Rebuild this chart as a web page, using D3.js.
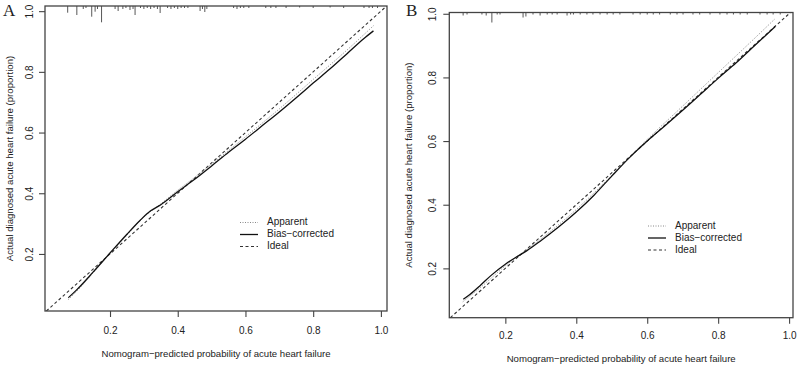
<!DOCTYPE html>
<html>
<head>
<meta charset="utf-8">
<script src="https://cdn.jsdelivr.net/npm/d3@7"></script>
<style>
  body { margin: 0; background: #fff; }
  svg { display: block; }
  text { font-family: "Liberation Sans", Arial, sans-serif; fill: #222; }
  .letter { font-family: "Liberation Serif", "DejaVu Serif", serif; font-size: 17px; }
</style>
</head>
<body>
<div id="chart"></div>
<script>
const xTicks = [0.2, 0.4, 0.6, 0.8, 1.0];
const yTicks = [0.2, 0.4, 0.6, 0.8, 1.0];
const xLabel = 'Nomogram\u2212predicted probability of acute heart failure';
const yLabel = 'Actual diagnosed acute heart failure (proportion)';
const legendLabels = ['Apparent', 'Bias\u2212corrected', 'Ideal'];

// Panel A
const biasA = [[0.077,0.056],[0.10,0.080],[0.15,0.140],[0.20,0.203],[0.25,0.265],[0.29,0.312],
  [0.32,0.342],[0.35,0.362],[0.40,0.405],[0.45,0.446],[0.50,0.490],[0.55,0.535],[0.60,0.578],
  [0.65,0.623],[0.70,0.668],[0.75,0.715],[0.80,0.763],[0.85,0.810],[0.90,0.860],[0.95,0.910],[0.978,0.935]];
const apparentA = [[0.077,0.050],[0.10,0.075],[0.15,0.138],[0.20,0.202],[0.25,0.262],[0.30,0.322],
  [0.35,0.365],[0.40,0.410],[0.45,0.452],[0.50,0.496],[0.60,0.586],[0.70,0.678],[0.80,0.775],
  [0.90,0.872],[0.978,0.952]];
const rugAx = [0.075,0.102,0.121,0.129,0.146,0.156,0.163,0.175,0.215,0.224,0.238,0.247,0.259,0.268,
  0.274,0.29,0.30,0.31,0.32,0.33,0.34,0.348,0.37,0.38,0.39,0.40,0.41,0.42,0.43,0.466,0.473,0.48,0.486,
  0.565,0.575,0.585,0.595,0.61,0.66,0.675,0.69,0.72,0.76,0.80,0.85,0.89,0.95,0.965,0.975,0.99];
const rugAn = [6.7,9,3,2,10.7,5.7,3,16.3,3,5,3,2,4,3,9,2,3,2,3,2,3,7,2,3,2,3,2,2,2,5,3,6,3,
  2,3,2,2,2,2,2,2,2,1.5,2,1.5,2,2,2,2,2];

// Panel B
const biasB = [[0.0815,0.103],[0.10,0.118],[0.13,0.147],[0.16,0.178],[0.20,0.213],[0.23,0.235],
  [0.26,0.255],[0.30,0.287],[0.35,0.330],[0.40,0.377],[0.45,0.430],[0.50,0.490],[0.55,0.548],
  [0.60,0.600],[0.65,0.648],[0.70,0.697],[0.75,0.747],[0.80,0.797],[0.85,0.845],[0.90,0.897],[0.961,0.960]];
const apparentB = [[0.08,0.095],[0.13,0.140],[0.20,0.208],[0.30,0.292],[0.40,0.385],[0.50,0.492],
  [0.60,0.605],[0.70,0.710],[0.80,0.815],[0.90,0.920],[0.961,0.985]];
const rugBx = [0.081,0.092,0.134,0.146,0.162,0.177,0.185,0.25,0.258,0.278,0.298,0.318,0.332,0.346,
  0.374,0.384,0.392,0.411,0.43,0.447,0.467,0.487,0.504,0.523,0.56,0.58,0.60,0.617,0.635,0.665,0.684,
  0.701,0.729,0.748,0.777,0.805,0.825,0.843,0.862,0.882,0.918,0.938,0.955,0.975];
const rugBn = [3,2,2,3,10,2,2,5,4,2,3,2,2,2,3,2,2,2,2,2,2,2,2,2,2,2,2,2,2,2,2,
  2,2,2,2,2,2,2,2,2,2,2,2,2];

const W = 798, H = 366;
const svg = d3.select('#chart').append('svg').attr('width', W).attr('height', H);

const panels = [
  { letter: 'A', lx: 3, box: [45, 6, 387, 311], xDom: [0.008, 1.018], yDom: [0.012, 1.017],
    bias: biasA, apparent: apparentA, rugX: rugAx, rugN: rugAn,
    yLabX: 10, yTickX: 30, xTickY: 331, xLabY: 354, legend: [240, 222.5] },
  { letter: 'B', lx: 406, box: [449.3, 12.5, 793, 317.7], xDom: [0.042, 1.011], yDom: [0.045, 1.004],
    bias: biasB, apparent: apparentB, rugX: rugBx, rugN: rugBn,
    yLabX: 409, yTickX: 433.5, xTickY: 336, xLabY: 359, legend: [648, 226] }
];

panels.forEach((p, i) => {
  const [x0, y0, x1, y1] = p.box;
  const x = d3.scaleLinear().domain(p.xDom).range([x0, x1]);
  const y = d3.scaleLinear().domain(p.yDom).range([y1, y0]);
  const g = svg.append('g');

  g.append('clipPath').attr('id', 'clip' + i)
    .append('rect').attr('x', x0).attr('y', y0).attr('width', x1 - x0).attr('height', y1 - y0);

  // rug of predicted probabilities hanging from the top
  const rugH = d3.scaleLinear().domain([0, 1]).range([0, 1]);
  g.append('g').selectAll('line').data(p.rugX).join('line')
    .attr('x1', d => x(d)).attr('x2', d => x(d))
    .attr('y1', y0).attr('y2', (d, k) => y0 + rugH(p.rugN[k]))
    .attr('stroke', '#444').attr('stroke-width', 0.9);

  // ideal diagonal
  const lo = Math.max(p.xDom[0], p.yDom[0]), hi = Math.min(p.xDom[1], p.yDom[1]);
  const line = d3.line().x(d => x(d[0])).y(d => y(d[1]));
  const smooth = d3.line().x(d => x(d[0])).y(d => y(d[1])).curve(d3.curveMonotoneX);
  const lines = g.append('g').attr('clip-path', `url(#clip${i})`);
  lines.append('path').attr('d', line([[lo, lo], [hi, hi]]))
    .attr('fill', 'none').attr('stroke', '#333').attr('stroke-width', 1.1).attr('stroke-dasharray', '3,2.5');
  lines.append('path').attr('d', smooth(p.apparent))
    .attr('fill', 'none').attr('stroke', '#888').attr('stroke-width', 1).attr('stroke-dasharray', '1,1.5');
  lines.append('path').attr('d', smooth(p.bias))
    .attr('fill', 'none').attr('stroke', '#111').attr('stroke-width', 1.3);

  // box
  g.append('rect').attr('x', x0).attr('y', y0).attr('width', x1 - x0).attr('height', y1 - y0)
    .attr('fill', 'none').attr('stroke', '#444').attr('stroke-width', 1.3);

  // axes
  const xAxis = g.append('g').attr('transform', `translate(0,${y1})`)
    .call(d3.axisBottom(x).tickValues(xTicks).tickSize(6).tickFormat(d3.format('.1f')));
  xAxis.select('.domain').remove();
  xAxis.selectAll('.tick line').attr('stroke', '#444').attr('stroke-width', 1.1);
  xAxis.selectAll('.tick text').attr('y', null).attr('dy', null)
    .attr('transform', `translate(0,${p.xTickY - y1})`).attr('dominant-baseline', 'middle')
    .style('font-size', '10px').style('font-family', '"Liberation Sans", Arial, sans-serif').attr('fill', '#222');

  const yAxis = g.append('g').attr('transform', `translate(${x0},0)`)
    .call(d3.axisLeft(y).tickValues(yTicks).tickSize(6).tickFormat(d3.format('.1f')));
  yAxis.select('.domain').remove();
  yAxis.selectAll('.tick line').attr('stroke', '#444').attr('stroke-width', 1.1);
  yAxis.selectAll('.tick text').attr('x', null).attr('dy', null).attr('text-anchor', 'middle')
    .attr('dominant-baseline', 'middle')
    .attr('transform', `translate(${p.yTickX - x0},0) rotate(-90)`)
    .style('font-size', '10px').style('font-family', '"Liberation Sans", Arial, sans-serif').attr('fill', '#222');

  // axis titles
  g.append('text').attr('x', (x0 + x1) / 2).attr('y', p.xLabY)
    .attr('text-anchor', 'middle').attr('dominant-baseline', 'middle')
    .style('font-size', '9.6px').text(xLabel);
  g.append('text').attr('transform', `translate(${p.yLabX},${(y0 + y1) / 2}) rotate(-90)`)
    .attr('text-anchor', 'middle').attr('dominant-baseline', 'middle')
    .style('font-size', '9.6px').text(yLabel);

  // panel letter
  g.append('text').attr('class', 'letter').attr('x', p.lx).attr('y', 16).text(p.letter);

  // legend
  const [lgx, lgy] = p.legend;
  const styles = [
    { stroke: '#888', w: 1, dash: '1,1.5' },
    { stroke: '#111', w: 1.3, dash: null },
    { stroke: '#333', w: 1.1, dash: '3,2.5' }
  ];
  legendLabels.forEach((lab, k) => {
    const yy = lgy + k * 12;
    g.append('line').attr('x1', lgx).attr('x2', lgx + 18).attr('y1', yy).attr('y2', yy)
      .attr('stroke', styles[k].stroke).attr('stroke-width', styles[k].w)
      .attr('stroke-dasharray', styles[k].dash);
    g.append('text').attr('x', lgx + 27).attr('y', yy).attr('dominant-baseline', 'middle')
      .style('font-size', '10px').text(lab);
  });
});
</script>
</body>
</html>
